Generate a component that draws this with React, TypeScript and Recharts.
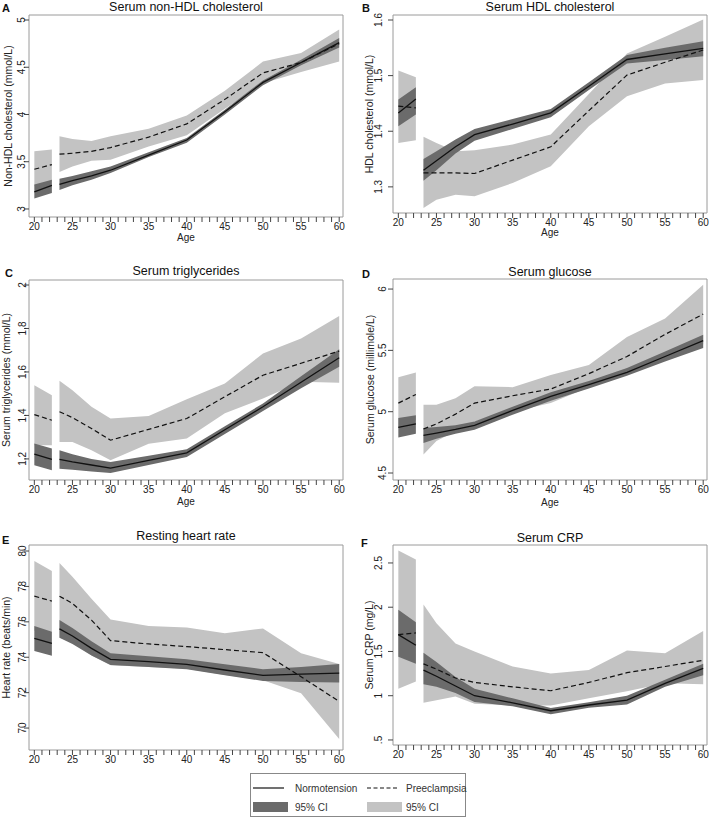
import { ComposedChart, Area, Line, XAxis, YAxis, ReferenceArea } from "recharts";

const ages = [20, 22.3, 23.3, 25, 27.5, 30, 35, 40, 45, 50, 55, 60];
const GAP_AGE = 22.8;

// A: serum non-HDL cholesterol
const nonHdlNorm = [3.18, 3.25, 3.26, 3.3, 3.35, 3.41, 3.57, 3.73, 4.03, 4.34, 4.55, 4.76];
const nonHdlNormLo = [3.11, 3.17, 3.2, 3.25, 3.31, 3.38, 3.55, 3.7, 4.0, 4.31, 4.52, 4.71];
const nonHdlNormHi = [3.26, 3.31, 3.32, 3.35, 3.4, 3.45, 3.6, 3.75, 4.05, 4.36, 4.58, 4.81];
const nonHdlPre = [3.42, 3.47, 3.58, 3.59, 3.61, 3.65, 3.76, 3.9, 4.16, 4.44, 4.55, 4.75];
const nonHdlPreLo = [3.24, 3.29, 3.39, 3.45, 3.51, 3.52, 3.66, 3.78, 4.06, 4.33, 4.45, 4.56];
const nonHdlPreHi = [3.61, 3.63, 3.77, 3.74, 3.72, 3.77, 3.85, 3.99, 4.25, 4.56, 4.65, 4.9];

// B: serum HDL cholesterol
const hdlNorm = [1.433, 1.458, 1.33, 1.347, 1.372, 1.394, 1.413, 1.433, 1.481, 1.529, 1.539, 1.549];
const hdlNormLo = [1.409, 1.43, 1.311, 1.33, 1.36, 1.383, 1.404, 1.425, 1.474, 1.522, 1.528, 1.535];
const hdlNormHi = [1.457, 1.479, 1.35, 1.364, 1.385, 1.404, 1.422, 1.44, 1.488, 1.537, 1.55, 1.562];
const hdlPre = [1.445, 1.442, 1.325, 1.325, 1.325, 1.324, 1.348, 1.372, 1.437, 1.501, 1.524, 1.546];
const hdlPreLo = [1.379, 1.384, 1.262, 1.277, 1.286, 1.283, 1.307, 1.337, 1.409, 1.463, 1.486, 1.492];
const hdlPreHi = [1.509, 1.497, 1.39, 1.379, 1.364, 1.366, 1.376, 1.394, 1.467, 1.54, 1.57, 1.601];

// C: serum triglycerides
const trigNorm = [1.222, 1.198, 1.198, 1.186, 1.172, 1.158, 1.193, 1.228, 1.334, 1.44, 1.553, 1.665];
const trigNormLo = [1.171, 1.148, 1.155, 1.15, 1.142, 1.135, 1.172, 1.209, 1.315, 1.42, 1.525, 1.624];
const trigNormHi = [1.271, 1.248, 1.24, 1.222, 1.2, 1.186, 1.215, 1.245, 1.35, 1.455, 1.58, 1.704];
const trigPre = [1.404, 1.378, 1.417, 1.39, 1.34, 1.286, 1.336, 1.386, 1.486, 1.585, 1.64, 1.696];
const trigPreLo = [1.263, 1.263, 1.278, 1.278, 1.24, 1.194, 1.27, 1.294, 1.41, 1.478, 1.555, 1.55];
const trigPreHi = [1.539, 1.493, 1.559, 1.516, 1.44, 1.386, 1.397, 1.475, 1.547, 1.685, 1.754, 1.857];

// D: serum glucose
const glucNorm = [4.872, 4.9, 4.807, 4.825, 4.855, 4.889, 5.01, 5.125, 5.22, 5.32, 5.45, 5.58];
const glucNormLo = [4.79, 4.82, 4.745, 4.78, 4.82, 4.853, 4.975, 5.09, 5.19, 5.293, 5.41, 5.519];
const glucNormHi = [4.948, 4.97, 4.867, 4.875, 4.89, 4.92, 5.04, 5.158, 5.25, 5.356, 5.49, 5.628];
const glucPre = [5.07, 5.14, 4.859, 4.9, 4.98, 5.07, 5.13, 5.185, 5.31, 5.45, 5.63, 5.796];
const glucPreLo = [4.87, 4.93, 4.65, 4.76, 4.84, 4.92, 5.0, 5.07, 5.2, 5.31, 5.45, 5.55];
const glucPreHi = [5.28, 5.32, 5.057, 5.057, 5.11, 5.207, 5.2, 5.3, 5.38, 5.61, 5.76, 6.035];

// E: resting heart rate
const hrNorm = [75.07, 74.78, 75.6, 75.2, 74.5, 73.88, 73.75, 73.6, 73.28, 72.98, 73.05, 73.1];
const hrNormLo = [74.35, 74.09, 75.1, 74.75, 74.1, 73.56, 73.45, 73.32, 72.98, 72.66, 72.6, 72.57];
const hrNormHi = [75.76, 75.44, 76.1, 75.65, 74.9, 74.22, 74.05, 73.88, 73.6, 73.32, 73.45, 73.62];
const hrPre = [77.45, 77.17, 77.45, 77.04, 76.1, 74.94, 74.75, 74.6, 74.43, 74.26, 72.9, 71.5];
const hrPreLo = [75.5, 75.4, 75.1, 74.85, 74.1, 73.55, 73.45, 73.35, 73.0, 72.7, 71.97, 69.38];
const hrPreHi = [79.44, 78.87, 79.32, 78.54, 77.3, 76.13, 75.76, 75.68, 75.35, 75.63, 74.22, 73.62];

// F: serum CRP
const crpNorm = [1.69, 1.57, 1.29, 1.22, 1.11, 1.0, 0.92, 0.83, 0.895, 0.95, 1.14, 1.31];
const crpNormLo = [1.44, 1.36, 1.13, 1.1, 1.03, 0.93, 0.88, 0.79, 0.865, 0.9, 1.1, 1.23];
const crpNormHi = [1.97, 1.83, 1.485, 1.38, 1.21, 1.08, 0.97, 0.86, 0.925, 1.0, 1.18, 1.36];
const crpPre = [1.69, 1.71, 1.36, 1.3, 1.2, 1.15, 1.1, 1.056, 1.15, 1.26, 1.33, 1.4];
const crpPreLo = [1.08, 1.16, 0.92, 0.95, 0.99, 0.91, 0.89, 0.89, 0.97, 1.05, 1.14, 1.13];
const crpPreHi = [2.64, 2.54, 2.03, 1.82, 1.59, 1.5, 1.33, 1.25, 1.29, 1.51, 1.48, 1.73];

const xTicks = Array.from({ length: 41 }, (_, i) => 20 + i);
const X_DOMAIN: [number, number] = [19.3, 60.5];

const DARK = "#6b6b6b";
const LIGHT = "#c3c3c3";
const FONT = "'Liberation Sans', Arial, sans-serif";

type Series = { nm: number[]; nlo: number[]; nhi: number[]; pm: number[]; plo: number[]; phi: number[] };

function buildRows(s: Series) {
  const rows: any[] = ages.map((age, i) => ({
    age,
    nm: s.nm[i],
    nci: [s.nlo[i], s.nhi[i]],
    pm: s.pm[i],
    pci: [s.plo[i], s.phi[i]],
  }));
  // break between the two age groups
  rows.splice(2, 0, { age: GAP_AGE, nm: null, nci: null, pm: null, pci: null });
  return rows;
}

const panels = [
  {
    letter: "A", title: "Serum non-HDL cholesterol", yLabel: "Non-HDL cholesterol (mmol/L)",
    series: { nm: nonHdlNorm, nlo: nonHdlNormLo, nhi: nonHdlNormHi, pm: nonHdlPre, plo: nonHdlPreLo, phi: nonHdlPreHi },
    yDomain: [2.915, 5.053], yTicks: [3, 3.5, 4, 4.5, 5],
    box: [0, 0, 354, 250], frame: [29, 15, 343, 217], xh: 24, age: true,
    tickDx: 3, labelX: 7.5, titleY: 11, letterXY: [2, 12],
  },
  {
    letter: "B", title: "Serum HDL cholesterol", yLabel: "HDL cholesterol (mmol/L)",
    series: { nm: hdlNorm, nlo: hdlNormLo, nhi: hdlNormHi, pm: hdlPre, plo: hdlPreLo, phi: hdlPreHi },
    yDomain: [1.253, 1.609], yTicks: [1.3, 1.4, 1.5, 1.6],
    box: [354, 0, 355, 250], frame: [393, 15, 707, 213], xh: 23, age: true,
    tickDx: -4, labelX: 369, titleY: 11, letterXY: [362, 12],
  },
  {
    letter: "C", title: "Serum triglycerides", yLabel: "Serum triglycerides (mmol/L)",
    series: { nm: trigNorm, nlo: trigNormLo, nhi: trigNormHi, pm: trigPre, plo: trigPreLo, phi: trigPreHi },
    yDomain: [1.103, 2.023], yTicks: [1.2, 1.4, 1.6, 1.8, 2],
    box: [0, 250, 354, 270], frame: [29, 280, 343, 480], xh: 25, age: true,
    tickDx: 4, labelX: 5.5, titleY: 275, letterXY: [5, 277],
  },
  {
    letter: "D", title: "Serum glucose", yLabel: "Serum glucose (millimole/L)",
    series: { nm: glucNorm, nlo: glucNormLo, nhi: glucNormHi, pm: glucPre, plo: glucPreLo, phi: glucPreHi },
    yDomain: [4.443, 6.082], yTicks: [4.5, 5, 5.5, 6],
    box: [354, 250, 355, 270], frame: [393, 279, 707, 480], xh: 26, age: true,
    tickDx: 0, labelX: 370, titleY: 276, letterXY: [362, 278],
  },
  {
    letter: "E", title: "Resting heart rate", yLabel: "Heart rate (beats/min)",
    series: { nm: hrNorm, nlo: hrNormLo, nhi: hrNormHi, pm: hrPre, plo: hrPreLo, phi: hrPreHi },
    yDomain: [68.76, 80.34], yTicks: [70, 72, 74, 76, 78, 80],
    box: [0, 520, 354, 250], frame: [29, 545, 343, 750], xh: 16, age: false,
    tickDx: 4, labelX: 5.5, titleY: 540, letterXY: [2, 544],
  },
  {
    letter: "F", title: "Serum CRP", yLabel: "Serum CRP (mg/L)",
    series: { nm: crpNorm, nlo: crpNormLo, nhi: crpNormHi, pm: crpPre, plo: crpPreLo, phi: crpPreHi },
    yDomain: [0.443, 2.703], yTicks: [0.5, 1, 1.5, 2, 2.5],
    box: [354, 520, 355, 250], frame: [393, 545, 707, 745], xh: 16, age: false,
    tickDx: -4, labelX: 369, titleY: 542, letterXY: [361, 547],
  },
];

// Stata style: ".5" instead of "0.5"
const fmtY = (v: number) => (v > 0 && v < 1 ? String(v).replace(/^0/, "") : String(v));

const YTick = (props: any) => {
  const { x, y, payload, dx } = props;
  const bx = x + dx;
  return (
    <text x={bx} y={y} transform={`rotate(-90 ${bx} ${y})`} textAnchor="middle"
      fontSize={10} fill="#222" fontFamily={FONT}>
      {fmtY(payload.value)}
    </text>
  );
};

const Panel = ({ p }: { p: (typeof panels)[number] }) => {
  const [bx, by, bw, bh] = p.box;
  const [fl, ft, fr, fb] = p.frame;
  const rows = buildRows(p.series);
  return (
    <div style={{ position: "absolute", left: bx, top: by }}>
      <ComposedChart
        width={bw}
        height={bh}
        data={rows}
        margin={{ top: ft - by, right: bx + bw - fr, bottom: by + bh - fb - p.xh, left: 0 }}
      >
        <XAxis
          dataKey="age"
          type="number"
          domain={X_DOMAIN}
          allowDataOverflow
          ticks={xTicks}
          interval={0}
          tickFormatter={(v: number) => (v % 5 === 0 ? String(v) : "")}
          tickSize={5}
          tickMargin={1}
          axisLine={false}
          tickLine={{ stroke: "#444" }}
          tick={{ fontSize: 10, fill: "#222", fontFamily: FONT }}
          height={p.xh}
          label={p.age ? { value: "Age", position: "insideBottom", offset: 0, fontSize: 10, fill: "#222", fontFamily: FONT } : undefined}
        />
        <YAxis
          type="number"
          domain={p.yDomain}
          allowDataOverflow
          ticks={p.yTicks}
          interval={0}
          width={fl - bx}
          tickSize={5}
          axisLine={false}
          tickLine={{ stroke: "#444" }}
          tick={(tp: any) => <YTick {...tp} dx={p.tickDx} />}
        />
        <Area dataKey="pci" type="linear" fill={LIGHT} fillOpacity={1} stroke="none" isAnimationActive={false} />
        <Area dataKey="nci" type="linear" fill={DARK} fillOpacity={1} stroke="none" isAnimationActive={false} />
        <Line dataKey="pm" type="linear" stroke="#111" strokeWidth={1.2} strokeDasharray="5 3" dot={false} activeDot={false} isAnimationActive={false} />
        <Line dataKey="nm" type="linear" stroke="#111" strokeWidth={1.3} dot={false} activeDot={false} isAnimationActive={false} />
        <ReferenceArea x1={X_DOMAIN[0]} x2={X_DOMAIN[1]} y1={p.yDomain[0]} y2={p.yDomain[1]}
          fill="none" stroke="#9a9a9a" strokeWidth={1} ifOverflow="visible" />
      </ComposedChart>
    </div>
  );
};

const App = () => {
  return (
    <div style={{ position: "absolute", left: 0, top: 0, width: 709, height: 818, background: "#fff", fontFamily: FONT }}>
      {panels.map((p) => (
        <Panel key={p.letter} p={p} />
      ))}
      <svg width={709} height={818} style={{ position: "absolute", left: 0, top: 0, pointerEvents: "none" }} fontFamily={FONT}>
        {panels.map((p) => {
          const [fl, ft, fr, fb] = p.frame;
          const cy = (ft + fb) / 2;
          return (
            <g key={p.letter}>
              <text x={p.letterXY[0]} y={p.letterXY[1]} fontSize={11} fontWeight="bold" fill="#111">{p.letter}</text>
              <text x={(fl + fr) / 2} y={p.titleY} fontSize={12.5} textAnchor="middle" fill="#111">{p.title}</text>
              <text x={p.labelX} y={cy} fontSize={10.5} textAnchor="middle" dominantBaseline="central"
                transform={`rotate(-90 ${p.labelX} ${cy})`} fill="#222">{p.yLabel}</text>
            </g>
          );
        })}
        {/* legend */}
        <rect x={250.5} y={773.5} width={215} height={43} fill="#fff" stroke="#888" />
        <line x1={253} x2={284} y1={788} y2={788} stroke="#111" strokeWidth={1.2} />
        <text x={295} y={791.5} fontSize={10} fill="#333">Normotension</text>
        <line x1={367} x2={397} y1={788} y2={788} stroke="#111" strokeWidth={1.2} strokeDasharray="4 2.5" />
        <text x={406} y={791.5} fontSize={10} fill="#333">Preeclampsia</text>
        <rect x={253} y={802} width={35} height={10} fill={DARK} />
        <text x={295} y={810.5} fontSize={10} fill="#333">95% CI</text>
        <rect x={367} y={802} width={35} height={10} fill={LIGHT} />
        <text x={406} y={810.5} fontSize={10} fill="#333">95% CI</text>
      </svg>
    </div>
  );
};

export default App;
